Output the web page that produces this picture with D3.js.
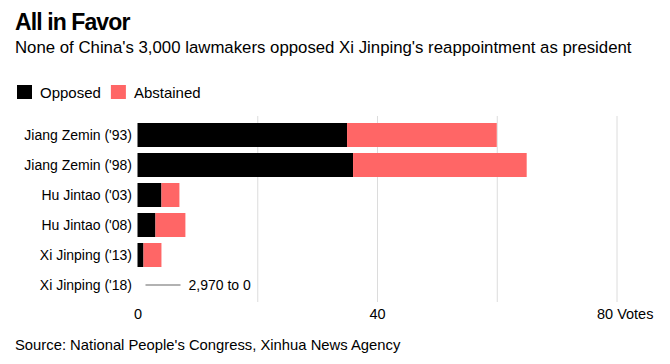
<!DOCTYPE html>
<html>
<head>
<meta charset="utf-8">
<script src="https://cdn.jsdelivr.net/npm/d3@7"></script>
<style>
  body { margin: 0; padding: 0; background: #fff; }
  svg text { font-family: "Liberation Sans", Arial, sans-serif; fill: #000; }
</style>
</head>
<body>
<div id="chart"></div>
<script>
const leaders = ["Jiang Zemin ('93)", "Jiang Zemin ('98)", "Hu Jintao ('03)", "Hu Jintao ('08)", "Xi Jinping ('13)", "Xi Jinping ('18)"];
const opposed = [35, 36, 4, 3, 1, 0];
const abstained = [25, 29, 3, 5, 3, 0];
const gridTicks = [20, 40, 60, 80];
const labelTicks = [0, 40, 80];
const seriesNames = ["Opposed", "Abstained"];
const colors = ["#000000", "#ff6666"];

const width = 670, height = 364;
const svg = d3.select('#chart').append('svg').attr('width', width).attr('height', height);

// header
svg.append('text').attr('x', 15).attr('y', 30)
  .style('font-size', '23px').style('font-weight', 'bold').style('letter-spacing', '-0.9px')
  .text('All in Favor');
svg.append('text').attr('x', 15).attr('y', 53)
  .style('font-size', '16.8px')
  .text("None of China's 3,000 lawmakers opposed Xi Jinping's reappointment as president");

// legend
const legend = svg.append('g');
let lx = 17;
seriesNames.forEach((name, i) => {
  legend.append('rect').attr('x', lx).attr('y', 85).attr('width', 15).attr('height', 14).attr('fill', colors[i]);
  const t = legend.append('text').attr('x', lx + 23).attr('y', 97.5).style('font-size', '15px').text(name);
  lx += 23 + t.node().getComputedTextLength() + 10;
});

const x = d3.scaleLinear().domain([0, 80]).range([137.5, 616.5]);
const y = d3.scaleBand().domain(leaders).range([120, 300]).paddingInner(0.2).paddingOuter(0.1);

// gridlines
svg.append('g')
  .attr('transform', 'translate(0,302)')
  .call(d3.axisBottom(x).tickValues(gridTicks).tickSize(-186).tickFormat(''))
  .call(g => g.select('.domain').remove())
  .call(g => g.selectAll('line').attr('stroke', '#dcdcdc'));

// stacked bars
const rows = leaders.map((name, i) => ({ name, opposed: opposed[i], abstained: abstained[i] }));
const stack = d3.stack().keys(['opposed', 'abstained'])(rows);
svg.append('g').selectAll('g').data(stack).join('g')
  .attr('fill', (d, i) => colors[i])
  .selectAll('rect').data(d => d).join('rect')
  .attr('x', d => x(d[0]))
  .attr('y', d => y(d.data.name))
  .attr('width', d => x(d[1]) - x(d[0]))
  .attr('height', y.bandwidth());

// category labels
svg.append('g').selectAll('text').data(leaders).join('text')
  .attr('x', 132).attr('y', d => y(d) + y.bandwidth() / 2 + 5)
  .attr('text-anchor', 'end').style('font-size', '14px')
  .text(d => d);

// annotation for zero row
const last = leaders[leaders.length - 1];
const ay = y(last) + y.bandwidth() / 2;
svg.append('line').attr('x1', x(0) + 8).attr('x2', x(0) + 43).attr('y1', ay).attr('y2', ay)
  .attr('stroke', '#666').attr('stroke-width', 1.2);
svg.append('text').attr('x', x(0) + 51).attr('y', ay + 5).style('font-size', '14px').text('2,970 to 0');

// axis labels
svg.append('g')
  .attr('transform', 'translate(0,309)')
  .call(d3.axisBottom(x).tickValues(labelTicks).tickSize(0).tickPadding(0)
    .tickFormat(d => d === 80 ? '80 Votes' : d))
  .call(g => g.select('.domain').remove())
  .call(g => g.selectAll('text').style('font-size', '14.5px').attr('fill', '#000')
    .style('font-family', '"Liberation Sans", Arial, sans-serif'))
  .call(g => g.selectAll('.tick').filter(d => d === 80).select('text')
    .attr('text-anchor', 'start').attr('x', -20));

// source
svg.append('text').attr('x', 15).attr('y', 350).style('font-size', '14.8px')
  .text("Source: National People's Congress, Xinhua News Agency");
</script>
</body>
</html>
